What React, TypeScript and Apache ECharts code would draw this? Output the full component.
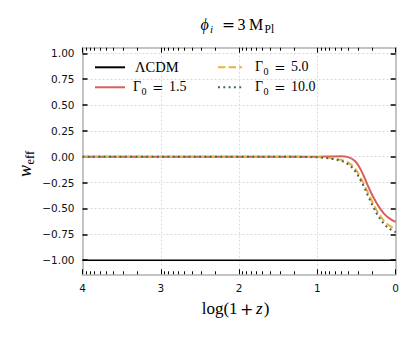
import React, { useEffect, useRef } from "react";
import * as echarts from "echarts";

// ---- data ----
const xValues = [4, 3, 2, 1.5, 1.2, 1.0, 0.9, 0.8, 0.7, 0.65, 0.6, 0.55, 0.5, 0.45, 0.4, 0.35, 0.3, 0.25, 0.2, 0.15, 0.1, 0.05, 0];
const gamma15 = [0, 0, 0, 0, 0, 0, 0.001, 0.003, 0.004, 0.002, -0.006, -0.025, -0.06, -0.12, -0.2, -0.29, -0.37, -0.44, -0.5, -0.55, -0.585, -0.61, -0.63];
const gamma50 = [0, 0, 0, 0, -0.001, -0.004, -0.008, -0.016, -0.03, -0.042, -0.06, -0.09, -0.135, -0.2, -0.275, -0.355, -0.435, -0.51, -0.57, -0.62, -0.655, -0.68, -0.7];
const gamma100 = [0, 0, 0, 0, -0.002, -0.006, -0.012, -0.022, -0.04, -0.055, -0.078, -0.11, -0.16, -0.225, -0.3, -0.385, -0.465, -0.54, -0.6, -0.65, -0.685, -0.71, -0.73];
const lcdmX = [4, 0];
const lcdmW = [-1, -1];

const xTickValues = [0, 1, 2, 3, 4];
const yTickValues = [-1, -0.75, -0.5, -0.25, 0, 0.25, 0.5, 0.75, 1];
const xMinorTicks: number[] = [];
for (let n = 0; n < 4; n++) for (let k = 2; k <= 9; k++) xMinorTicks.push(n + Math.log10(k));

const seriesNames = ["ΛCDM", "Γ0 = 1.5", "Γ0 = 5.0", "Γ0 = 10.0"];
const seriesColors = ["#000000", "#d6605b", "#eeb040", "#3f6a58"];

const SERIF = "'Liberation Serif', 'DejaVu Serif', serif";
const SANS = "'DejaVu Sans', sans-serif";

const X_MIN = 0, X_MAX = 4, Y_MIN = -1.137, Y_MAX = 1.054;

function txt(text: string, x: number, baseline: number, size: number, opts: any = {}) {
  const align = opts.align || "left";
  return {
    type: "text",
    x,
    y: baseline - 0.34 * size,
    silent: true,
    style: {
      text,
      fontSize: size,
      fontFamily: opts.family || SERIF,
      fontStyle: opts.italic ? "italic" : "normal",
      fill: "#000",
      align,
      textAlign: align,
      verticalAlign: "middle",
      textVerticalAlign: "middle",
    },
  };
}

function legendLine(x1: number, x2: number, y: number, color: string, dash: any) {
  return {
    type: "line",
    silent: true,
    shape: { x1, y1: y, x2, y2: y },
    style: { stroke: color, lineWidth: 2, lineDash: dash, lineCap: "butt" },
  };
}

function gammaLabel(x: number, baseline: number, value: string) {
  return [
    txt("Γ", x, baseline, 14),
    txt("0", x + 8.6, baseline + 2.8, 10),
    txt("=", x + 25, baseline, 13.5, { family: "'DejaVu Serif', serif", align: "center" }),
    txt(value, x + 36, baseline, 14),
  ];
}

const gridLine = { show: true, lineStyle: { color: "#d0d0d0", width: 0.8, type: [2, 2] } };
const spine = { show: true, onZero: false, lineStyle: { color: "#c4c4c4", width: 2 } };

export default function App() {
  const ref = useRef<HTMLDivElement>(null);
  useEffect(() => {
    document.body.style.margin = "0";
    const chart = echarts.init(ref.current!, null, { renderer: "svg" });
    const baseX = { type: "value", min: X_MIN, max: X_MAX, inverse: true, gridIndex: 0 };
    const baseY = { type: "value", min: Y_MIN, max: Y_MAX, gridIndex: 0 };
    const option: any = {
      animation: false,
      backgroundColor: "#ffffff",
      grid: { left: 82.5, right: 19.3, top: 47.7, bottom: 63.7, containLabel: false, outerBoundsMode: "none" },
      xAxis: [
        {
          ...baseX,
          position: "bottom",
          interval: 1,
          axisLine: spine,
          axisTick: { show: true, inside: true, length: 5, lineStyle: { color: "#000", width: 1 } },
          axisLabel: {
            show: true, margin: 8, fontSize: 10.5, fontFamily: SANS, color: "#111",
            formatter: (v: number) => (xTickValues.includes(v) ? String(v) : ""),
          },
          splitLine: gridLine,
        },
        {
          ...baseX,
          position: "bottom",
          axisLine: { show: false, onZero: false },
          axisTick: { show: true, inside: true, length: 3, customValues: xMinorTicks, lineStyle: { color: "#000", width: 1 } },
          axisLabel: { show: false },
          splitLine: { show: false },
        },
        {
          ...baseX,
          position: "top",
          interval: 1,
          axisLine: spine,
          axisTick: { show: true, inside: true, length: 5, lineStyle: { color: "#000", width: 1 } },
          axisLabel: { show: false },
          splitLine: { show: false },
        },
        {
          ...baseX,
          position: "top",
          axisLine: { show: false, onZero: false },
          axisTick: { show: true, inside: true, length: 3, customValues: xMinorTicks, lineStyle: { color: "#000", width: 1 } },
          axisLabel: { show: false },
          splitLine: { show: false },
        },
      ],
      yAxis: [
        {
          ...baseY,
          position: "left",
          axisLine: spine,
          axisTick: { show: true, inside: true, length: 5, customValues: yTickValues, lineStyle: { color: "#000", width: 1.5 } },
          axisLabel: {
            show: true, margin: 8, fontSize: 10.5, fontFamily: SANS, color: "#111",
            customValues: yTickValues,
            formatter: (v: number) => (v < 0 ? "\u2212" + Math.abs(v).toFixed(2) : v.toFixed(2)),
          },
          splitLine: gridLine,
        },
        {
          ...baseY,
          position: "right",
          axisLine: spine,
          axisTick: { show: true, inside: true, length: 5, customValues: yTickValues, lineStyle: { color: "#000", width: 1.5 } },
          axisLabel: { show: false },
          splitLine: { show: false },
        },
      ],
      series: [
        {
          name: seriesNames[0], type: "line", xAxisIndex: 0, yAxisIndex: 0, showSymbol: false, symbol: "none",
          data: lcdmX.map((x, i) => [x, lcdmW[i]]),
          lineStyle: { color: seriesColors[0], width: 1.5 },
          z: 3,
        },
        {
          name: seriesNames[1], type: "line", xAxisIndex: 0, yAxisIndex: 0, symbol: "none", smooth: 0.35,
          data: xValues.map((x, i) => [x, gamma15[i]]),
          lineStyle: { color: seriesColors[1], width: 2 },
          z: 4,
        },
        {
          name: seriesNames[2], type: "line", xAxisIndex: 0, yAxisIndex: 0, symbol: "none", smooth: 0.35,
          data: xValues.map((x, i) => [x, gamma50[i]]),
          lineStyle: { color: seriesColors[2], width: 2, type: [7.4, 3.2] },
          z: 5,
        },
        {
          name: seriesNames[3], type: "line", xAxisIndex: 0, yAxisIndex: 0, symbol: "none", smooth: 0.35,
          data: xValues.map((x, i) => [x, gamma100[i]]),
          lineStyle: { color: seriesColors[3], width: 2, type: [2, 3.3] },
          z: 6,
        },
      ],
      graphic: [
        // title: ϕ_i = 3 M_Pl
        txt("ϕ", 200.5, 30, 16, { italic: true }),
        txt("i", 210, 33, 11, { italic: true }),
        txt("=", 228.5, 30, 15.5, { family: "'DejaVu Serif', serif", align: "center" }),
        txt("3", 237.5, 30, 16),
        txt("M", 249, 30, 16),
        txt("Pl", 264.5, 33, 11.5),
        // x axis name: log(1 + z)
        txt("log(1", 201.7, 314.5, 17),
        txt("+", 246.7, 314.5, 16, { family: "'DejaVu Serif', serif", align: "center" }),
        txt("z", 256, 314.5, 17, { italic: true }),
        txt(")", 263.8, 314.5, 17),
        // y axis name: w_eff (rotated)
        {
          type: "group", x: 31, y: 177, rotation: Math.PI / 2, silent: true,
          children: [
            txt("w", 0, 0, 18, { italic: true }),
            txt("eff", 12.5, 3.5, 12.5),
          ],
        },
        // legend
        legendLine(95, 125, 67.3, seriesColors[0], null),
        txt("ΛCDM", 135, 71.7, 14.5),
        legendLine(95, 125, 87.3, seriesColors[1], null),
        ...gammaLabel(133, 91.7, "1.5"),
        legendLine(218, 242, 67.3, seriesColors[2], [7.4, 3.2]),
        ...gammaLabel(255, 71.7, "5.0"),
        legendLine(218, 242, 87.3, seriesColors[3], [2, 3.3]),
        ...gammaLabel(255, 91.7, "10.0"),
      ],
    };
    chart.setOption(option);
    return () => chart.dispose();
  }, []);
  return <div ref={ref} style={{ width: 415, height: 338 }} />;
}
